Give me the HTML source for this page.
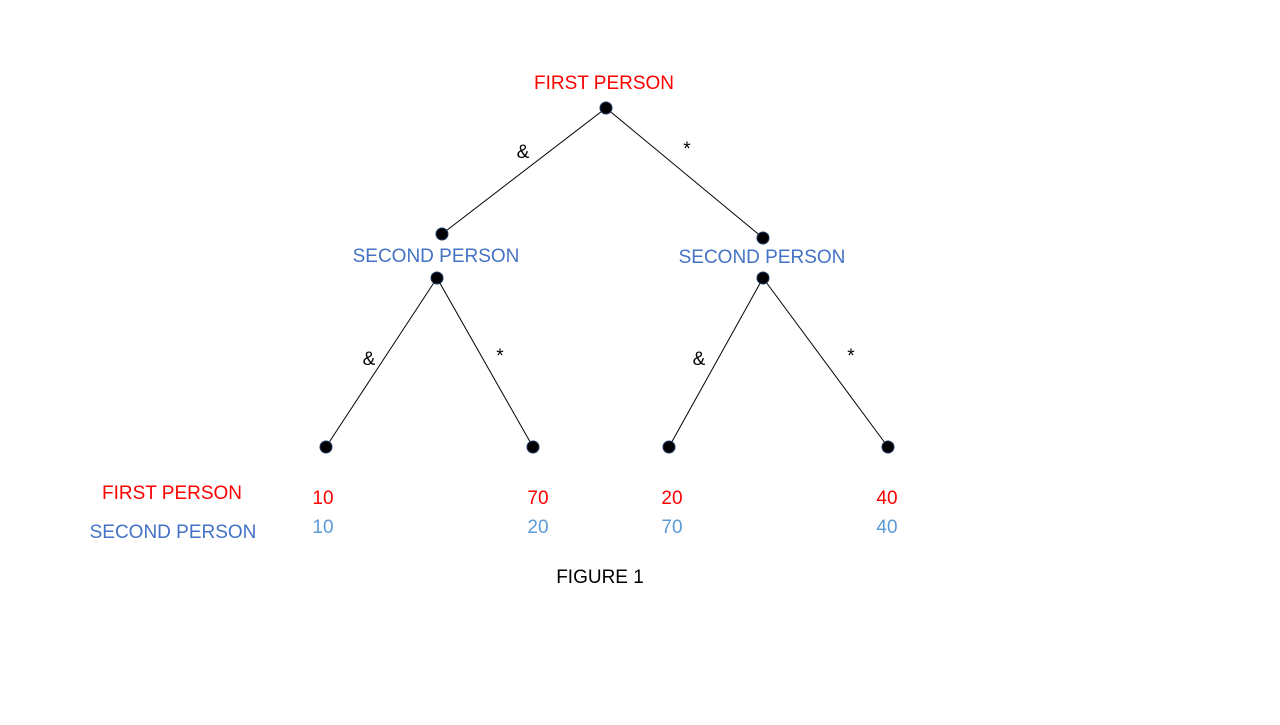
<!DOCTYPE html>
<html><head><meta charset="utf-8"><style>html,body{margin:0;padding:0;background:#fff}</style></head>
<body>
<svg width="1280" height="720" xmlns="http://www.w3.org/2000/svg" font-family="Liberation Sans, sans-serif" font-size="19">
<rect width="1280" height="720" fill="#fff"/>
<g stroke="#000" stroke-width="1">
<line x1="606" y1="108" x2="442" y2="234"/>
<line x1="606" y1="108" x2="763" y2="238"/>
<line x1="437" y1="278" x2="326" y2="447"/>
<line x1="437" y1="278" x2="533" y2="447"/>
<line x1="763" y1="278" x2="669" y2="447"/>
<line x1="763" y1="278" x2="888" y2="447"/>
</g>
<g fill="#000" stroke="#1f3864" stroke-width="1">
<circle cx="606" cy="108" r="6"/>
<circle cx="442" cy="234" r="6"/>
<circle cx="437" cy="278" r="6"/>
<circle cx="763" cy="238" r="6"/>
<circle cx="763" cy="278" r="6"/>
<circle cx="326" cy="447" r="6"/>
<circle cx="533" cy="447" r="6"/>
<circle cx="669" cy="447" r="6"/>
<circle cx="888" cy="447" r="6"/>
</g>
<text x="604" y="89" fill="#ff0000" text-anchor="middle">FIRST PERSON</text>
<text x="436" y="262" fill="#4472c4" text-anchor="middle">SECOND PERSON</text>
<text x="762" y="263" fill="#4472c4" text-anchor="middle">SECOND PERSON</text>
<g fill="#000" text-anchor="middle">
<text x="523" y="158">&amp;</text>
<text x="687" y="155">*</text>
<text x="369" y="365">&amp;</text>
<text x="500" y="362">*</text>
<text x="699" y="365">&amp;</text>
<text x="851" y="362">*</text>
<text x="600" y="583">FIGURE 1</text>
</g>
<text x="172" y="499" fill="#ff0000" text-anchor="middle">FIRST PERSON</text>
<text x="173" y="538" fill="#4472c4" text-anchor="middle">SECOND PERSON</text>
<g fill="#ff0000" text-anchor="middle">
<text x="323" y="504">10</text>
<text x="538" y="504">70</text>
<text x="672" y="504">20</text>
<text x="887" y="504">40</text>
</g>
<g fill="#5b9bd5" text-anchor="middle">
<text x="323" y="533">10</text>
<text x="538" y="533">20</text>
<text x="672" y="533">70</text>
<text x="887" y="533">40</text>
</g>
</svg>
</body></html>
